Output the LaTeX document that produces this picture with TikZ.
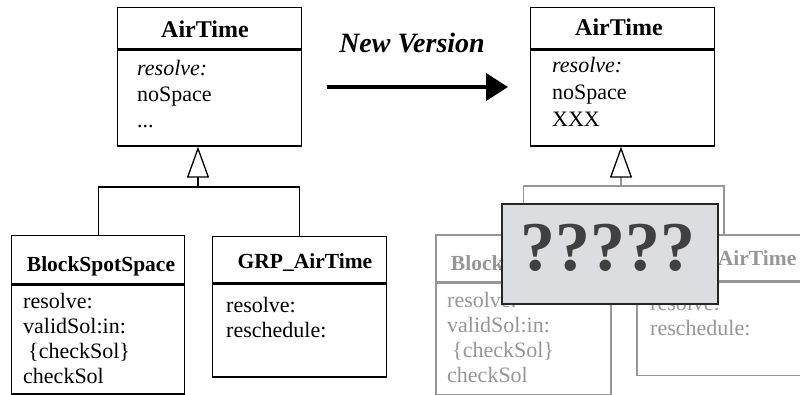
\documentclass[tikz,border=0pt]{standalone}
\usepackage{fontspec}
\setmainfont{Liberation Serif}
\usetikzlibrary{arrows.meta, positioning, calc}

\definecolor{ghost}{RGB}{150,150,150}
\definecolor{qfill}{RGB}{220,221,224}
\definecolor{qtext}{RGB}{64,64,64}

\begin{document}
\begin{tikzpicture}[x=1pt, y=-1pt,
    classhead/.style={draw, line width=1.3pt, inner sep=0, anchor=north west},
    classbody/.style={draw, line width=1.3pt, inner sep=0, anchor=north},
    classname/.style={anchor=base, inner sep=0, font=\fontsize{21.5}{25}\selectfont\bfseries},
    topname/.style={classname, font=\fontsize{24}{28}\selectfont\bfseries},
    members/.style={anchor=base west, inner sep=0, text width=170pt, align=left, font=\fontsize{22}{25}\selectfont},
    fadedbox/.style={draw=ghost, line width=1.5pt},
    fadedtext/.style={text=ghost},
    inherit/.style={line width=1.3pt, -{Triangle[length=31pt, width=22pt, color=black, fill=white]}}
]
  \useasboundingbox (0,0) rectangle (800,394);
  \clip (0,0) rectangle (800,394);

  % Old version: AirTime and its subclasses
  \node[classhead, minimum width=184pt, minimum height=41pt] (airL) at (117,7) {};
  \node[classbody, minimum width=184pt, minimum height=96pt] (airLbody) at (airL.south) {};
  \node[topname] (airLname) at (205,37) {AirTime};
  \node[members, font=\fontsize{22}{26}\selectfont] (airLops) at (137,75) {\textit{resolve:}\\noSpace\\...};

  \node[classhead, minimum width=173pt, minimum height=48pt] (blockL) at (11,235) {};
  \node[classbody, minimum width=173pt, minimum height=109pt] (blockLbody) at (blockL.south) {};
  \node[classname] (blockLname) at (101,271) {BlockSpotSpace};
  \node[members] (blockLops) at (23,308) {resolve:\\validSol:in:\\\hspace{5pt}\{checkSol\}\\checkSol};

  \node[classhead, minimum width=174pt, minimum height=46pt] (grpL) at (212,236) {};
  \node[classbody, minimum width=174pt, minimum height=93pt] (grpLbody) at (grpL.south) {};
  \node[classname] (grpLname) at (305,268) {GRP\_AirTime};
  \node[members] (grpLops) at (226,312) {resolve:\\reschedule:};

  \coordinate (forkL) at (198,187);
  \draw[line width=1.3pt] (blockL.north) |- (forkL) -| (grpL.north);
  \draw[inherit] (forkL) -- (forkL |- airLbody.south);

  % New version arrow
  \coordinate (arrowStart) at (327,87);
  \coordinate (arrowEnd) at (508,87);
  \draw[line width=4pt, -{Triangle[length=22pt, width=27pt]}] (arrowStart) -- (arrowEnd);
  \node[anchor=base, inner sep=0, font=\fontsize{28}{32}\selectfont\bfseries\itshape] (newver) at (412,52) {New Version};

  % New version: AirTime and faded subclasses
  \node[classhead, minimum width=184pt, minimum height=41pt] (airR) at (530,7) {};
  \node[classbody, minimum width=184pt, minimum height=96pt] (airRbody) at (airR.south) {};
  \node[topname] (airRname) at (619,35) {AirTime};
  \node[members, font=\fontsize{22}{27}\selectfont] (airRops) at (552,72) {\textit{resolve:}\\noSpace\\XXX};

  \node[classhead, fadedbox, minimum width=175pt, minimum height=47pt] (blockR) at (435,234) {};
  \node[classbody, fadedbox, minimum width=175pt, minimum height=111pt] (blockRbody) at (blockR.south) {};
  \node[classname, fadedtext] (blockRname) at (525,270) {BlockSpotSpace};
  \node[members, fadedtext] (blockRops) at (447,307) {resolve:\\validSol:in:\\\hspace{5pt}\{checkSol\}\\checkSol};

  \node[classhead, fadedbox, minimum width=174pt, minimum height=46pt] (grpR) at (636,234) {};
  \node[classbody, fadedbox, minimum width=174pt, minimum height=93pt] (grpRbody) at (grpR.south) {};
  \node[classname, fadedtext] (grpRname) at (729,265) {GRP\_AirTime};
  \node[members, fadedtext] (grpRops) at (650,310) {resolve:\\reschedule:};

  \coordinate (forkR) at (621,186);
  \draw[ghost, line width=1.5pt] (blockR.north) |- (forkR) -| (grpR.north);
  \draw[inherit, ghost] (forkR) -- (forkR |- airRbody.south);

  % Unknown part
  \node[draw=black!85, fill=qfill, line width=1.5pt, minimum width=216pt, minimum height=100pt, anchor=north west] (unknown) at (501,203) {};
  \node[anchor=base, inner sep=0, text=qtext, font=\fontsize{70}{70}\selectfont\bfseries] (marks) at (608,270) {?????};
\end{tikzpicture}
\end{document}
